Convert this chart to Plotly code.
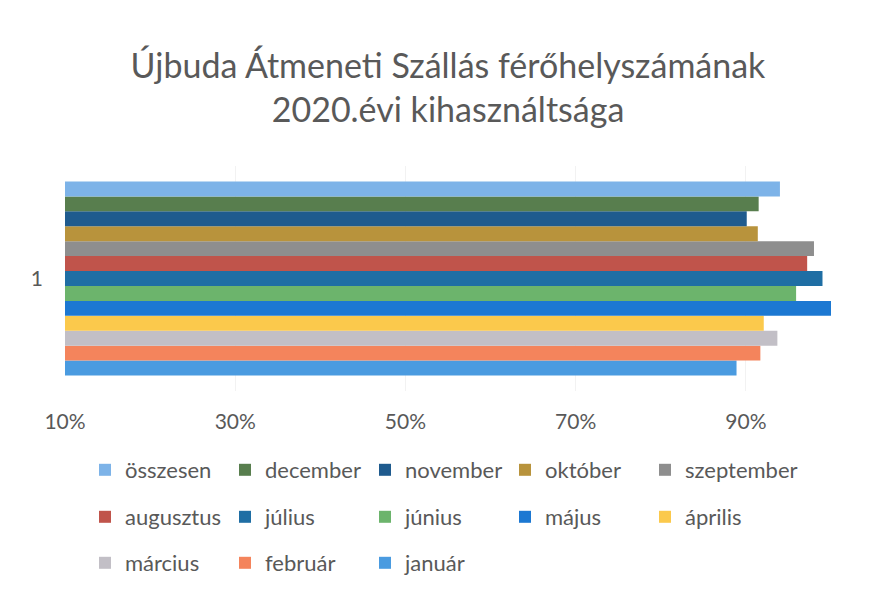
import plotly.graph_objects as go

category = ["1"]
series_names = ["január", "február", "március", "április", "május", "június",
                "július", "augusztus", "szeptember", "október", "november",
                "december", "összesen"]
series_values = [0.889, 0.917, 0.937, 0.921, 1.000, 0.959,
                 0.990, 0.972, 0.980, 0.914, 0.901, 0.915, 0.940]
series_colors = ["#4a9be0", "#f4845c", "#c2bfc6", "#fbc94c", "#1c78d2", "#6cb46c",
                 "#1f6ea4", "#c0544b", "#8e8e8e", "#b8933c", "#1f5b8e",
                 "#587e4e", "#7db3e8"]
tick_vals = [0.1, 0.3, 0.5, 0.7, 0.9]
tick_text = ["10%", "30%", "50%", "70%", "90%"]

# legend placement: rows of the legend grid (last column kept in its own legends)
row_of = {}
for n in ["összesen", "december", "november", "október"]:
    row_of[n] = "legend"
for n in ["augusztus", "július", "június", "május"]:
    row_of[n] = "legend2"
for n in ["március", "február", "január"]:
    row_of[n] = "legend3"
row_of["szeptember"] = "legend4"
row_of["április"] = "legend5"

FONT = "Lato"
TXT = "#595959"

fig = go.Figure()
for name, val, col in zip(series_names, series_values, series_colors):
    fig.add_trace(go.Bar(
        y=category, x=[val], name=name, orientation="h",
        marker=dict(color=col, line=dict(width=0)),
        legend=row_of[name],
    ))

W, H = 869, 591
L, R, T, B = 57, 46, 158, 208
pw = W - L - R
ph = H - T - B

def lx(px):
    return (px - L) / pw

def ly(py):
    return (H - B - py) / ph

leg_common = dict(orientation="h", traceorder="reversed", entrywidth=95,
                  entrywidthmode="pixels", xanchor="left", yanchor="middle",
                  font=dict(family=FONT, size=22, color=TXT),
                  bgcolor="rgba(0,0,0,0)", itemwidth=30)
leg_single = dict(orientation="h", xanchor="left", yanchor="middle",
                  font=dict(family=FONT, size=22, color=TXT),
                  bgcolor="rgba(0,0,0,0)", itemwidth=30)

fig.update_layout(
    width=W, height=H,
    margin=dict(l=L, r=R, t=T, b=B),
    paper_bgcolor="white", plot_bgcolor="white",
    barmode="group", bargap=0.138, bargroupgap=0,
    font=dict(family=FONT, color=TXT),
    title=dict(text="Újbuda Átmeneti Szállás férőhelyszámának<br>2020.évi kihasználtsága",
               x=0.5, xref="paper", xanchor="center",
               y=1 - 70 / H, yref="container", yanchor="top",
               font=dict(family=FONT, size=34, color=TXT)),
    xaxis=dict(range=[0.1, 1.0], tickvals=tick_vals, ticktext=tick_text,
               showgrid=True, gridcolor="#f2f2f2", zeroline=False,
               showline=False, ticks="", ticklabelstandoff=16,
               tickfont=dict(family=FONT, size=21, color=TXT)),
    yaxis=dict(type="category", showgrid=False, zeroline=False, showline=False,
               ticks="", ticklabelstandoff=21,
               tickfont=dict(family=FONT, size=21, color=TXT)),
    legend=dict(x=lx(77), y=ly(462), **leg_common),
    legend2=dict(x=lx(77), y=ly(509), **leg_common),
    legend3=dict(x=lx(77), y=ly(555), **leg_common),
    legend4=dict(x=lx(77 + 4 * 140), y=ly(462), **leg_single),
    legend5=dict(x=lx(77 + 4 * 140), y=ly(509), **leg_single),
)

fig.write_html("out.html")
